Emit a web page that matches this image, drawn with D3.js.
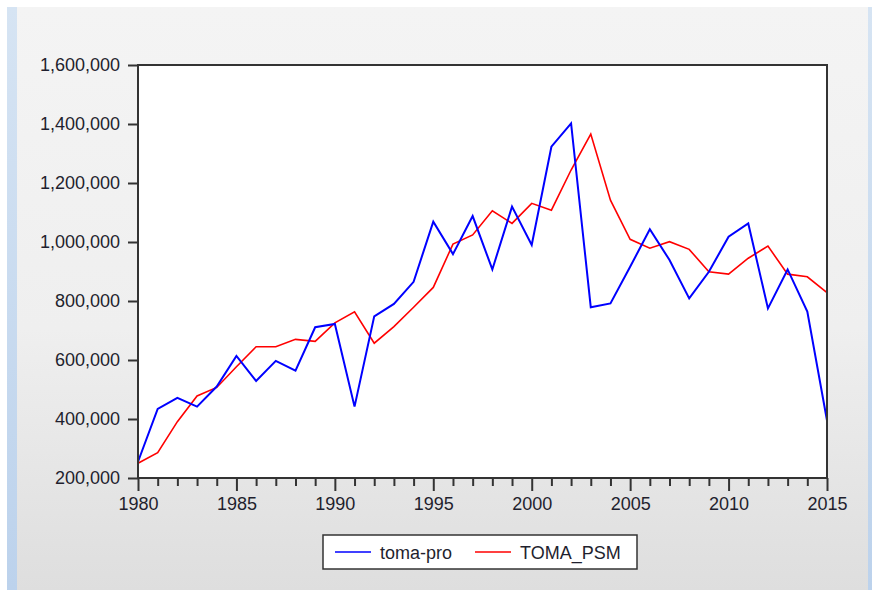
<!DOCTYPE html>
<html><head><meta charset="utf-8">
<script src="https://cdn.jsdelivr.net/npm/d3@7"></script>
<style>html,body{margin:0;padding:0;background:#fff;}svg{display:block;}</style>
</head><body>
<svg id="chart" width="872" height="590"></svg>
<script>
const years = d3.range(1980, 2016);
const tomaPro = [255000,434000,472000,442000,510000,614000,529000,597000,564000,711000,722000,442000,748000,790000,865000,1069000,959000,1088000,907000,1120000,990000,1323000,1402000,779000,792000,916000,1043000,939000,809000,899000,1018000,1063000,775000,907000,764000,395000];
const tomaPsm = [250000,286000,391000,478000,507000,577000,645000,645000,670000,663000,726000,763000,657000,713000,779000,846000,993000,1024000,1106000,1063000,1131000,1108000,1244000,1366000,1142000,1009000,979000,1001000,975000,899000,891000,945000,986000,891000,882000,828000];
const yTicks = [200000,400000,600000,800000,1000000,1200000,1400000,1600000];
const xTicks = [1980,1985,1990,1995,2000,2005,2010,2015];
const seriesNames = ["toma-pro","TOMA_PSM"];
const seriesColors = ["#0000ff","#ff0000"];

const svg = d3.select("#chart");
const defs = svg.append("defs");
const bg = defs.append("linearGradient").attr("id","bg").attr("x1",0).attr("y1",0).attr("x2",0).attr("y2",1);
bg.append("stop").attr("offset","0%").attr("stop-color","#f4f4f4");
bg.append("stop").attr("offset","55%").attr("stop-color","#efefef");
bg.append("stop").attr("offset","100%").attr("stop-color","#dedede");
const bl = defs.append("linearGradient").attr("id","bl").attr("x1",0).attr("y1",0).attr("x2",0).attr("y2",1);
bl.append("stop").attr("offset","0%").attr("stop-color","#d6e4f3");
bl.append("stop").attr("offset","100%").attr("stop-color","#bcd2ec");

svg.append("rect").attr("x",0).attr("y",0).attr("width",872).attr("height",590).attr("fill","#fff");
svg.append("rect").attr("x",7).attr("y",7).attr("width",865).attr("height",583).attr("fill","url(#bg)");
svg.append("rect").attr("x",7).attr("y",7).attr("width",10).attr("height",583).attr("fill","url(#bl)");
svg.append("rect").attr("x",868).attr("y",7).attr("width",4).attr("height",583).attr("fill","url(#bl)");

const L=138, T=65, R=827, B=478;
const x = d3.scaleLinear().domain([1980,2015]).range([L,R]);
const y = d3.scaleLinear().domain([200000,1600000]).range([B,T]);

svg.append("rect").attr("x",L).attr("y",T).attr("width",R-L).attr("height",B-T).attr("fill","#fff");

const fmt = d3.format(",");
const font = "'Liberation Sans', Arial, sans-serif";

// y axis
const yAxis = svg.append("g").attr("transform",`translate(${L},0)`)
  .call(d3.axisLeft(y).tickValues(yTicks).tickFormat(fmt).tickSize(10).tickPadding(8));
yAxis.select(".domain").remove();
yAxis.selectAll("line").attr("stroke","#333").attr("stroke-width",2);
yAxis.selectAll("text").attr("font-family",font).attr("font-size",18).attr("fill","#1f1f2e");

// x axis minor
const xMinor = svg.append("g").attr("transform",`translate(0,${B})`)
  .call(d3.axisBottom(x).tickValues(years.filter(v=>v%5!==0)).tickFormat("").tickSize(8));
xMinor.select(".domain").remove();
xMinor.selectAll("line").attr("stroke","#333").attr("stroke-width",2);
const xMajor = svg.append("g").attr("transform",`translate(0,${B})`)
  .call(d3.axisBottom(x).tickValues(xTicks).tickFormat(d3.format("d")).tickSize(13).tickPadding(6));
xMajor.select(".domain").remove();
xMajor.selectAll("line").attr("stroke","#333").attr("stroke-width",2);
xMajor.selectAll("text").attr("font-family",font).attr("font-size",18).attr("fill","#1f1f2e");

// lines
const line = d3.line().x((d,i)=>x(years[i])).y(d=>y(d));
svg.append("path").datum(tomaPsm).attr("d",line).attr("fill","none").attr("stroke",seriesColors[1]).attr("stroke-width",1.6);
svg.append("path").datum(tomaPro).attr("d",line).attr("fill","none").attr("stroke",seriesColors[0]).attr("stroke-width",2);

// frame
svg.append("rect").attr("x",L).attr("y",T).attr("width",R-L).attr("height",B-T).attr("fill","none").attr("stroke","#333").attr("stroke-width",2);

// legend
const lg = svg.append("g");
lg.append("rect").attr("x",323).attr("y",535).attr("width",314).attr("height",34).attr("fill","#fff").attr("stroke","#333").attr("stroke-width",1.5);
const lx = [335,475];
seriesNames.forEach((n,i)=>{
  lg.append("line").attr("x1",lx[i]).attr("x2",lx[i]+36).attr("y1",552).attr("y2",552).attr("stroke",seriesColors[i]).attr("stroke-width",1.6);
  lg.append("text").attr("x",lx[i]+45).attr("y",558.5).attr("font-family",font).attr("font-size",18).attr("fill","#1f1f2e").text(n);
});
</script>
</body></html>
